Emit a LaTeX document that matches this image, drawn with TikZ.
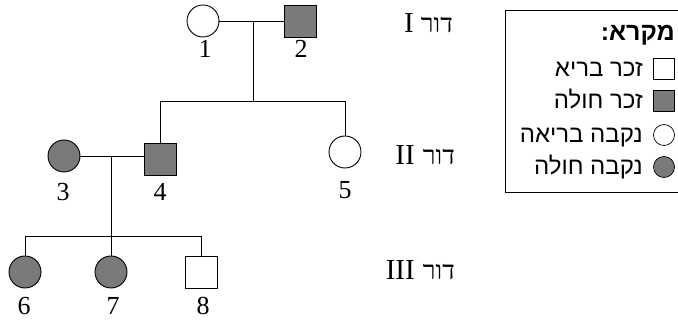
\documentclass[tikz,border=0pt]{standalone}
\usepackage{fontspec}
\setmainfont{Liberation Serif}
\newfontfamily\hebsans[Script=Hebrew]{Liberation Sans}
\newfontfamily\hebserif[Script=Hebrew]{Liberation Serif}
\TeXXeTstate=1

\tikzset{
  person/.style={draw=black, line width=0.9pt, inner sep=0pt, minimum size=32pt},
  male/.style={person, rectangle},
  female/.style={person, circle},
  ill/.style={fill=black!52},
  link/.style={line width=0.8pt},
  num/.style={font=\fontsize{26}{26}\selectfont, inner sep=0pt, anchor=base},
  roman/.style={font=\fontsize{29}{29}\selectfont, inner sep=0pt, anchor=base east},
  gen/.style={font=\hebserif\fontsize{26}{26}\selectfont, inner sep=0pt, anchor=base east},
  keytext/.style={font=\hebsans\fontsize{24}{24}\selectfont, inner sep=0pt, anchor=base east},
  keysym/.style={draw=black, line width=0.7pt, inner sep=0pt, minimum size=21pt},
}

\begin{document}
\begin{tikzpicture}[x=1pt, y=-1pt]
\useasboundingbox (0,0) rectangle (678,320);

% generation I
\node[female] (n1) at (203,21) {};
\node[male, ill] (n2) at (300,21) {};
\node[num] (l1) at (205,58) {1};
\node[num] (l2) at (301,58) {2};

% generation II
\node[female, ill] (n3) at (64,156) {};
\node[male, ill] (n4) at (160,159) {};
\node[female] (n5) at (345,152) {};
\node[num] (l3) at (63,201) {3};
\node[num] (l4) at (160,201) {4};
\node[num] (l5) at (345,199) {5};

% generation III
\node[female, ill] (n6) at (25,272) {};
\node[female, ill] (n7) at (111,272) {};
\node[male] (n8) at (201,272) {};
\node[num] (l6) at (24,315) {6};
\node[num] (l7) at (113,315) {7};
\node[num] (l8) at (203,315) {8};

% couples and their children
\coordinate (m12) at (253,21);
\coordinate (s12) at (253,101);
\draw[link] (n1) -- (n2);
\draw[link] (m12) -- (s12);
\draw[link] (n4.north) -- (n4.north |- s12) -- (n5.north |- s12) -- (n5.north);

\coordinate (m34) at (111,156);
\coordinate (s34) at (111,236);
\draw[link] (n3.east) -- (n3.east -| n4.west);
\draw[link] (m34) -- (n7.north);
\draw[link] (n6.north) -- (n6.north |- s34) -- (n8.north |- s34) -- (n8.north);

% generation labels
\node[gen] (g1) at (453,33) {\beginR דור\endR};
\node[roman] (r1) at (414,33) {I};
\node[gen] (g2) at (455,165) {\beginR דור\endR};
\node[roman] (r2) at (415,165) {II};
\node[gen] (g3) at (455,280) {\beginR דור\endR};
\node[roman] (r3) at (415,280) {III};

% key
\draw[line width=0.9pt] (678,10) -- (505,10) -- (505,192) -- (678,192);
\node[keytext, font=\hebsans\bfseries\fontsize{25}{25}\selectfont] (kt) at (675,41) {\beginR מקרא:\endR};
\node[keysym, rectangle] (k1) at (664,69) {};
\node[keysym, rectangle, ill] (k2) at (664,101) {};
\node[keysym, circle] (k3) at (664,135) {};
\node[keysym, circle, ill] (k4) at (664,167) {};
\node[keytext] (t1) at (643,77) {\beginR זכר בריא\endR};
\node[keytext] (t2) at (643,109) {\beginR זכר חולה\endR};
\node[keytext] (t3) at (643,143) {\beginR נקבה בריאה\endR};
\node[keytext] (t4) at (643,175) {\beginR נקבה חולה\endR};
\end{tikzpicture}
\end{document}
